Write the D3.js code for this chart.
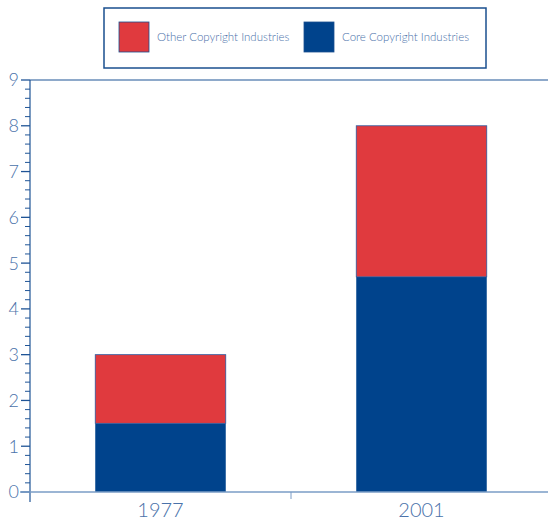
<!DOCTYPE html>
<html>
<head>
<meta charset="utf-8">
<script src="https://cdn.jsdelivr.net/npm/d3@7"></script>
<style>
  body { margin: 0; background: #fff; }
  text { font-family: Lato, "Open Sans", sans-serif; font-weight: 300; }
</style>
</head>
<body>
<script>
// chart data
const years = ["1977", "2001"];
const coreValues = [1.5, 4.7];
const otherValues = [1.5, 3.3];
const seriesNames = ["Other Copyright Industries", "Core Copyright Industries"];
const yTicks = [0, 1, 2, 3, 4, 5, 6, 7, 8, 9];

// layout
const width = 548;
const height = 524;
const axisX = 30;
const plotTop = 80;
const plotBottom = 492;
const red = "#e03a3e";
const blue = "#00438c";
const labelColor = "#4a72aa";

const svg = d3.select("body").append("svg")
  .attr("width", width)
  .attr("height", height);

const yScale = d3.scaleLinear().domain([0, 9]).range([plotBottom, plotTop]);
const xScale = d3.scaleBand().domain(years).range([axisX, 552]).padding(0);

// top line at 9
svg.append("line")
  .attr("x1", axisX).attr("x2", width)
  .attr("y1", yScale(9)).attr("y2", yScale(9))
  .attr("stroke", "#1f5496").attr("stroke-width", 1.2);

// bars
const bars = svg.selectAll(".bar")
  .data(years)
  .enter()
  .append("g")
  .attr("class", "bar");

bars.append("rect")
  .attr("x", function(d) { return xScale(d) + xScale.bandwidth() * 0.25; })
  .attr("width", xScale.bandwidth() * 0.5)
  .attr("y", function(d, i) { return yScale(coreValues[i]); })
  .attr("height", function(d, i) { return yScale(0) - yScale(coreValues[i]); })
  .attr("fill", blue);

bars.append("rect")
  .attr("x", function(d) { return xScale(d) + xScale.bandwidth() * 0.25; })
  .attr("width", xScale.bandwidth() * 0.5)
  .attr("y", function(d, i) { return yScale(coreValues[i] + otherValues[i]); })
  .attr("height", function(d, i) { return yScale(coreValues[i]) - yScale(coreValues[i] + otherValues[i]); })
  .attr("fill", red)
  .attr("stroke", "#2a5aa0")
  .attr("stroke-width", 0.8);

// y axis with minor ticks
const minorTicks = d3.range(0, 45).map(function(i) { return i / 5; }).filter(function(v) { return Math.round(v * 5) % 5 !== 0; });

svg.append("line")
  .attr("x1", axisX).attr("x2", axisX)
  .attr("y1", yScale(9)).attr("y2", plotBottom + 10)
  .attr("stroke", "#1f5496").attr("stroke-width", 1.2);

svg.selectAll(".minor")
  .data(minorTicks)
  .enter()
  .append("line")
  .attr("x1", axisX - 5).attr("x2", axisX)
  .attr("y1", function(d) { return yScale(d); })
  .attr("y2", function(d) { return yScale(d); })
  .attr("stroke", "#1f5496").attr("stroke-width", 1);

svg.selectAll(".major")
  .data(yTicks)
  .enter()
  .append("line")
  .attr("x1", axisX - 9).attr("x2", axisX)
  .attr("y1", function(d) { return yScale(d); })
  .attr("y2", function(d) { return yScale(d); })
  .attr("stroke", "#1f5496").attr("stroke-width", 1.3);

svg.selectAll(".ylabel")
  .data(yTicks)
  .enter()
  .append("text")
  .attr("x", 19)
  .attr("y", function(d) { return yScale(d); })
  .attr("dy", "0.36em")
  .attr("text-anchor", "end")
  .attr("font-size", 18)
  .attr("fill", labelColor)
  .text(function(d) { return d; });

// x axis
svg.append("line")
  .attr("x1", 20).attr("x2", width)
  .attr("y1", plotBottom).attr("y2", plotBottom)
  .attr("stroke", "#7a9cc6").attr("stroke-width", 1.5);

svg.append("line")
  .attr("x1", xScale(years[1])).attr("x2", xScale(years[1]))
  .attr("y1", plotBottom).attr("y2", plotBottom + 7)
  .attr("stroke", "#7a9cc6").attr("stroke-width", 1);

svg.selectAll(".xlabel")
  .data(years)
  .enter()
  .append("text")
  .attr("x", function(d) { return xScale(d) + xScale.bandwidth() / 2; })
  .attr("y", 517)
  .attr("text-anchor", "middle")
  .attr("font-size", 20)
  .attr("fill", labelColor)
  .text(function(d) { return d; });

// legend
const legend = svg.append("g");
legend.append("rect")
  .attr("x", 104).attr("y", 8)
  .attr("width", 382).attr("height", 60)
  .attr("fill", "#fff")
  .attr("stroke", "#1a4f8f").attr("stroke-width", 1.5);

const legendColors = [red, blue];
const legendX = [119, 304];
const items = legend.selectAll(".item")
  .data(seriesNames)
  .enter()
  .append("g")
  .attr("transform", function(d, i) { return "translate(" + legendX[i] + ",22)"; });

items.append("rect")
  .attr("width", 30).attr("height", 30)
  .attr("fill", function(d, i) { return legendColors[i]; })
  .attr("stroke", "#1a4f8f").attr("stroke-width", 0.8);

items.append("text")
  .attr("x", 38).attr("y", 15)
  .attr("dy", "0.35em")
  .attr("font-size", 11.5)
  .attr("fill", labelColor)
  .text(function(d) { return d; });
</script>
</body>
</html>
